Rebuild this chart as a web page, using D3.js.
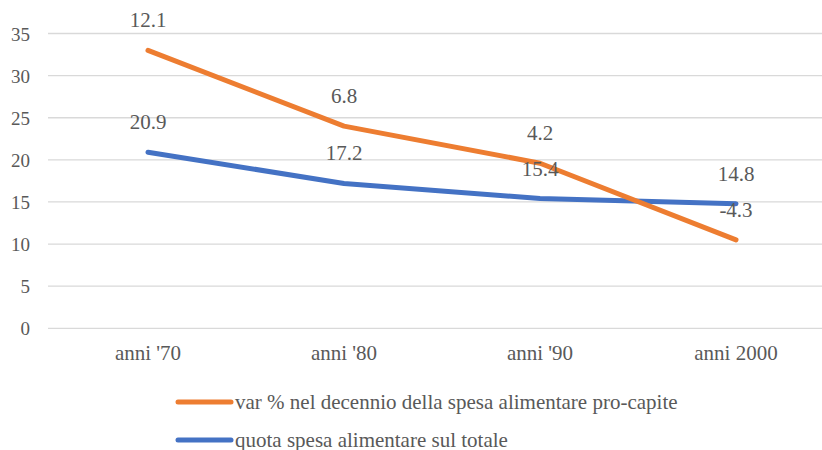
<!DOCTYPE html>
<html><head><meta charset="utf-8"><script src="https://cdn.jsdelivr.net/npm/d3@7"></script></head>
<body style="margin:0">
<svg id="chart" width="822" height="450"></svg>
<script>
// Decades on the x axis
const categories = ["anni '70", "anni '80", "anni '90", "anni 2000"];
// Share of food spending in total household spending (%)
const quotaSpesa = [20.9, 17.2, 15.4, 14.8];
// Decade % change in per-capita food spending (stacked on the share series)
const varSpesa = [12.1, 6.8, 4.2, -4.3];
// Value axis ticks
const yTicks = [0, 5, 10, 15, 20, 25, 30, 35];

const seriesNames = [
  "var % nel decennio della spesa alimentare pro-capite",
  "quota spesa alimentare sul totale"
];

const svg = d3.select("#chart");
const FONT = '"Liberation Serif"';
const textColor = "#595959";
const gridColor = "#d9d9d9";
const orange = "#ED7D31";
const blue = "#4472C4";
const fmt = v => d3.format(".1f")(v).replace("\u2212", "-");

const x = d3.scalePoint().domain(categories).range([148, 736]);
const y = d3.scaleLinear().domain([0, 35]).range([328.3, 33.5]);

// Stacked line layout: the second series sits on top of the first
const stacked = categories.map((c, i) => ({
  cat: c,
  base: quotaSpesa[i],
  top: quotaSpesa[i] + varSpesa[i],
  quota: quotaSpesa[i],
  varp: varSpesa[i]
}));

// Shared text styling
const textStyle = (sel, size) => sel
  .style("font-family", FONT)
  .style("font-size", size + "px")
  .attr("fill", textColor);

// Horizontal gridlines
svg.append("g")
  .selectAll("line")
  .data(yTicks)
  .join("line")
  .attr("x1", 48).attr("x2", 822)
  .attr("y1", d => y(d)).attr("y2", d => y(d))
  .attr("stroke", gridColor).attr("stroke-width", 1.3);

// Y axis labels
svg.append("g").selectAll("text")
  .data(yTicks)
  .join("text")
  .attr("x", 30)
  .attr("y", d => y(d) + 7)
  .attr("text-anchor", "end")
  .text(d => d)
  .call(textStyle, 19);

// X axis labels
svg.append("g").selectAll("text")
  .data(categories)
  .join("text")
  .attr("x", d => x(d))
  .attr("y", 360)
  .attr("text-anchor", "middle")
  .text(d => d)
  .call(textStyle, 21);

// Share series (blue)
svg.append("path")
  .datum(stacked)
  .attr("d", d3.line().x(d => x(d.cat)).y(d => y(d.base)))
  .attr("fill", "none")
  .attr("stroke", blue)
  .attr("stroke-width", 5)
  .attr("stroke-linecap", "round")
  .attr("stroke-linejoin", "round");

// Change series (orange), stacked
svg.append("path")
  .datum(stacked)
  .attr("d", d3.line().x(d => x(d.cat)).y(d => y(d.top)))
  .attr("fill", "none")
  .attr("stroke", orange)
  .attr("stroke-width", 5)
  .attr("stroke-linecap", "round")
  .attr("stroke-linejoin", "round");

// Data labels above each point
svg.append("g").selectAll("text")
  .data(stacked)
  .join("text")
  .attr("x", d => x(d.cat))
  .attr("y", d => y(d.base) - 23)
  .attr("text-anchor", "middle")
  .text(d => fmt(d.quota))
  .call(textStyle, 21);

svg.append("g").selectAll("text")
  .data(stacked)
  .join("text")
  .attr("x", d => x(d.cat))
  .attr("y", d => y(d.top) - 23)
  .attr("text-anchor", "middle")
  .text(d => fmt(d.varp))
  .call(textStyle, 21);

// Legend
const legend = svg.append("g");
const legendItems = [
  { name: seriesNames[0], color: orange, y: 402 },
  { name: seriesNames[1], color: blue, y: 440 }
];
legend.selectAll("line")
  .data(legendItems)
  .join("line")
  .attr("x1", 178).attr("x2", 231)
  .attr("y1", d => d.y).attr("y2", d => d.y)
  .attr("stroke", d => d.color)
  .attr("stroke-width", 5)
  .attr("stroke-linecap", "round");
legend.selectAll("text")
  .data(legendItems)
  .join("text")
  .attr("x", 235)
  .attr("y", d => d.y + 7)
  .text(d => d.name)
  .call(textStyle, 21);
</script>
</body>
</html>
